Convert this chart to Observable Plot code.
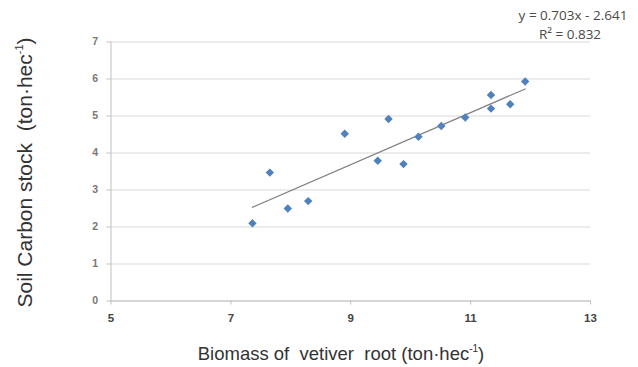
<!DOCTYPE html>
<html>
<head>
<meta charset="utf-8">
<script src="https://cdn.jsdelivr.net/npm/d3@7"></script>
<script src="https://cdn.jsdelivr.net/npm/@observablehq/plot@0.6"></script>
<style>
  html, body { margin: 0; padding: 0; background: #fff; }
  #chart svg { display: block; }
</style>
</head>
<body>
<div id="chart"></div>
<script>
// Data
const biomass = [7.36, 7.65, 7.95, 8.29, 8.90, 9.45, 9.63, 9.88, 10.13, 10.51, 10.91, 11.34, 11.34, 11.66, 11.91];
const carbon  = [2.10, 3.47, 2.50, 2.70, 4.52, 3.79, 4.92, 3.70, 4.44, 4.73, 4.96, 5.57, 5.20, 5.32, 5.93];
const xTicks = [5, 7, 9, 11, 13];
const yTicks = [0, 1, 2, 3, 4, 5, 6, 7];
const slope = 0.703;
const intercept = -2.641;
const r2 = 0.832;

const points = biomass.map((x, i) => ({x, y: carbon[i]}));
const trend = d3.extent(biomass).map(x => ({x, y: slope * x + intercept}));

const chart = Plot.plot({
  width: 638,
  height: 367,
  marginLeft: 110.5,
  marginRight: 48,
  marginTop: 41.5,
  marginBottom: 66.5,
  style: {fontFamily: "'Liberation Sans', Arial, sans-serif", background: "#fff", overflow: "visible"},
  x: {domain: [5, 13], label: null},
  y: {domain: [0, 7], label: null},
  marks: [
    Plot.gridY(yTicks, {stroke: "#d9d9d9", strokeOpacity: 1, strokeWidth: 1}),
    Plot.ruleX([5], {stroke: "#bfbfbf", strokeWidth: 1}),
    Plot.ruleY([0], {stroke: "#bfbfbf", strokeWidth: 1}),
    Plot.axisY(yTicks, {tickSize: 4, tickPadding: 9, stroke: "#bfbfbf", fill: "#777", fontSize: 10.5, fontWeight: "bold", label: null}),
    Plot.axisX(xTicks, {tickSize: 4, tickPadding: 9, stroke: "#bfbfbf", fill: "#444", fontSize: 11.5, fontWeight: "bold", label: null}),
    Plot.line(trend, {x: "x", y: "y", stroke: "#808080", strokeWidth: 1.2}),
    Plot.dot(points, {x: "x", y: "y", symbol: "diamond2", r: 3.8, fill: "#4F81BD", stroke: "none"})
  ]
});

document.getElementById("chart").appendChild(chart);

const svg = d3.select(chart);

function axisTitle(sel, main, size, supSize) {
  sel.append("tspan").text(main);
  sel.append("tspan").attr("dy", -size * 0.42).style("font-size", supSize + "px").text("-1");
  sel.append("tspan").attr("dy", size * 0.42).text(")");
}

// x axis title
const xt = svg.append("text")
  .attr("x", 341).attr("y", 360)
  .attr("text-anchor", "middle")
  .attr("fill", "#333")
  .style("font-family", "'Liberation Sans', Arial, sans-serif")
  .style("font-size", "18.5px")
  .style("white-space", "pre");
axisTitle(xt, "Biomass of  vetiver  root (ton\u00b7hec", 18.5, 10);

// y axis title
const yt = svg.append("text")
  .attr("transform", "translate(32,172.5) rotate(-90)")
  .attr("text-anchor", "middle")
  .attr("fill", "#333")
  .style("font-family", "'Liberation Sans', Arial, sans-serif")
  .style("font-size", "21px")
  .style("white-space", "pre");
axisTitle(yt, "Soil Carbon stock  (ton\u00b7hec", 21, 11);

// regression equation
const eq = svg.append("g")
  .attr("fill", "#4a4a4a")
  .style("font-family", "'Open Sans', sans-serif")
  .style("font-size", "13.5px")
  .attr("text-anchor", "middle");
eq.append("text").attr("x", 573).attr("y", 19.5).text(`y = ${slope.toFixed(3)}x - ${Math.abs(intercept).toFixed(3)}`);
eq.append("text").attr("x", 570).attr("y", 38.5).text(`R\u00b2 = ${r2.toFixed(3)}`);
</script>
</body>
</html>
